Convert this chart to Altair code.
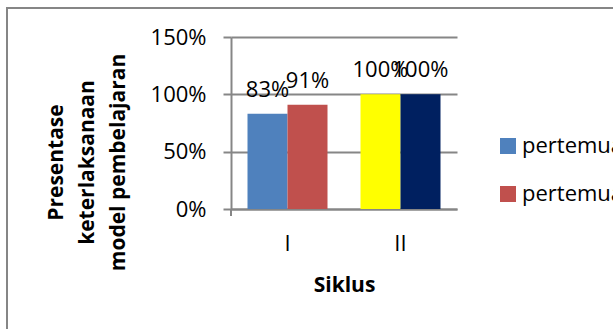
import altair as alt
import pandas as pd

siklus = ["I", "I", "II", "II"]
pertemuan = ["pertemuan 1", "pertemuan 2", "pertemuan 1", "pertemuan 2"]
nilai = [0.83, 0.91, 1.00, 1.00]
y_ticks = [0, 0.5, 1.0, 1.5]
y_title = ["Presentase", "keterlaksanaan", "model pembelajaran"]
x_title = "Siklus"

df = pd.DataFrame({"siklus": siklus, "pertemuan": pertemuan, "nilai": nilai})
df["kunci"] = df["siklus"] + " " + df["pertemuan"]

kunci_domain = list(df["kunci"])
warna = ["#4F81BD", "#C0504D", "#FFFF00", "#002060"]
GRAY = "#868686"

x_enc = alt.X(
    "siklus:N",
    scale=alt.Scale(paddingInner=0.292, paddingOuter=0.146),
    axis=alt.Axis(
        title=x_title, labelAngle=0, labelFontSize=22, labelColor="black",
        labelPadding=24, ticks=False, tickSize=0, domainColor=GRAY, domainWidth=2,
        titleFontSize=21, titleFontWeight="bold", titleColor="black",
        titleY=76, titleBaseline="middle",
    ),
)
xoff = alt.XOffset("pertemuan:N", scale=alt.Scale(paddingInner=0, paddingOuter=0))
y_enc = alt.Y(
    "nilai:Q",
    scale=alt.Scale(domain=[0, 1.5], nice=False),
    axis=alt.Axis(
        values=y_ticks, format=".0%", labelFontSize=22, labelColor="black",
        labelPadding=17, tickSize=8, tickColor=GRAY, tickWidth=2,
        domainColor=GRAY, domainWidth=2, grid=True, gridColor=GRAY, gridWidth=2,
        title=y_title, titleFontSize=21, titleFontWeight="bold", titleColor="black",
        titleAngle=270, titleAlign="center", titleBaseline="middle",
        titleLineHeight=31, titleX=-175, titleY=125,
    ),
)

bars = alt.Chart(df).mark_bar().encode(
    x=x_enc,
    xOffset=xoff,
    y=y_enc,
    color=alt.Color(
        "kunci:N",
        scale=alt.Scale(domain=kunci_domain, range=warna),
        legend=alt.Legend(
            title=None, values=kunci_domain[:2], labelExpr="slice(datum.label, 2)",
            orient="none", legendX=266, legendY=98, symbolType="square",
            symbolSize=256, symbolStrokeWidth=0, labelFontSize=22,
            labelColor="black", labelOffset=3, rowPadding=26, labelLimit=0,
        ),
    ),
)

labels = alt.Chart(df).mark_text(
    fontSize=22, baseline="alphabetic", dy=-17, color="black"
).encode(
    x=x_enc, xOffset=xoff, y=y_enc,
    text=alt.Text("nilai:Q", format=".0%"),
)

frame = alt.Chart(alt.Data(values=[{}])).mark_rect(
    filled=False, stroke=GRAY, strokeWidth=2
).encode(
    x=alt.value(-224), x2=alt.value(600), y=alt.value(-29), y2=alt.value(400)
)

ext = alt.Chart(alt.Data(values=[{}])).mark_rule(
    stroke=GRAY, strokeWidth=2
).encode(x=alt.value(0), y=alt.value(172), y2=alt.value(179))

chart = alt.layer(frame, bars, labels, ext).properties(
    width=226, height=172,
    autosize=alt.AutoSizeParams(type="none"),
    padding={"left": 231, "top": 37, "right": 156, "bottom": 120},
).configure(font="Open Sans").configure_view(strokeWidth=0)

chart.save("out.html", embed_options={"renderer": "svg", "actions": False})
